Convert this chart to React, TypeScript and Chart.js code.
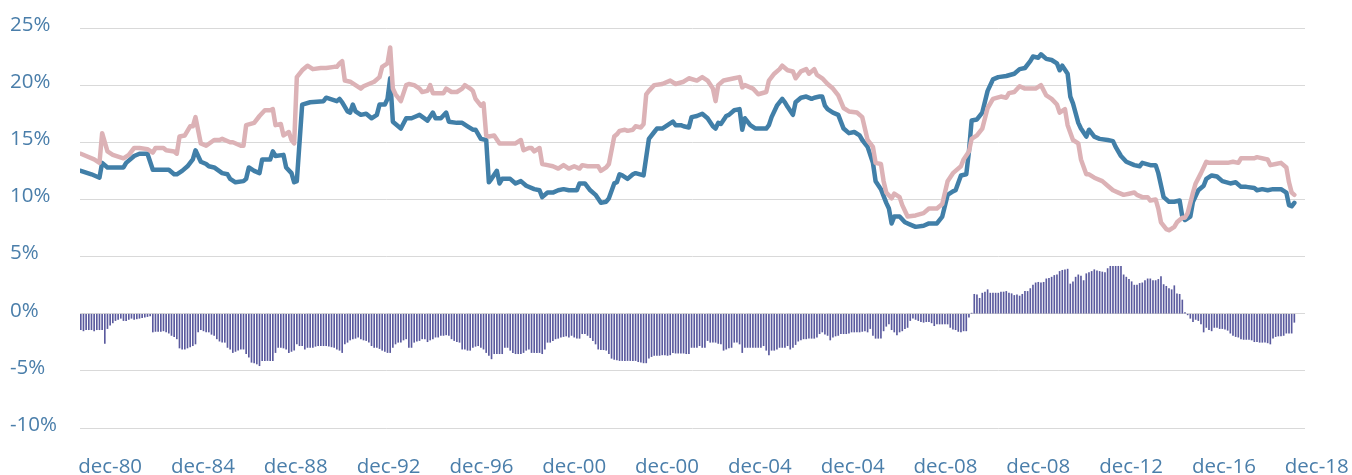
import React, { useEffect, useRef } from "react";
import { Chart, registerables } from "chart.js";

Chart.register(...registerables);

// x positions (month index) of the axis labels and their texts
const tickMonths = [11, 45.8, 80.6, 115.4, 150.2, 185, 219.8, 254.6, 289.4, 324.2, 359, 393.8, 428.6, 463.4];
const tickLabels = ["dec-80", "dec-84", "dec-88", "dec-92", "dec-96", "dec-00", "dec-00", "dec-04", "dec-04", "dec-08", "dec-08", "dec-12", "dec-16", "dec-18"];

const yTicks = [-10, -5, 0, 5, 10, 15, 20, 25];

// blue line: [month index, value %]
const blueSeries: [number, number][] = [
  [0,12.5],[4,12.2],[7,11.9],[8,13.2],[10,12.8],[16,12.8],[17,13.2],[20,13.8],[22,14.0],[25,14.0],[27,12.6],[33,12.6],[35,12.2],[36,12.2],[38,12.5],[40,12.9],[42,13.5],[43,14.3],[45,13.3],[47,13.1],[48,12.9],[50,12.8],[53,12.3],[55,12.2],[56,11.8],[58,11.5],[61,11.6],[62,11.8],[63,12.8],[65,12.5],[67,12.3],[68,13.5],[71,13.5],[72,14.2],[73,13.8],[76,13.9],[77,12.8],[79,12.3],[80,11.5],[81,11.6],[83,18.3],[86,18.5],[91,18.6],[92,18.9],[96,18.6],[97,18.8],[98,18.5],[100,17.7],[101,17.6],[102,18.3],[103,17.7],[105,17.4],[107,17.5],[109,17.1],[111,17.4],[112,18.3],[114,18.3],[115,18.8],[116,20.6],[117,16.8],[118,16.6],[120,16.2],[122,17.1],[124,17.1],[126,17.3],[127,17.4],[130,16.9],[132,17.6],[133,17.1],[135,17.1],[137,17.6],[138,16.8],[141,16.7],[143,16.7],[145,16.4],[147,16.1],[148,16.1],[150,15.3],[152,15.2],[153,11.5],[154,11.8],[156,12.5],[157,11.4],[158,11.8],[161,11.8],[163,11.4],[165,11.6],[167,11.2],[170,10.9],[172,10.8],[173,10.2],[175,10.6],[177,10.6],[179,10.8],[181,10.9],[183,10.8],[186,10.8],[187,11.4],[189,11.4],[191,10.8],[193,10.4],[195,9.7],[197,9.8],[198,10.1],[200,11.4],[201,11.5],[202,12.2],[203,12.1],[205,11.8],[207,12.2],[208,12.3],[211,12.1],[213,15.3],[215,15.9],[216,16.2],[218,16.2],[220,16.5],[222,16.8],[223,16.5],[225,16.5],[226,16.4],[228,16.3],[229,17.2],[231,17.3],[233,17.5],[235,17.1],[237,16.4],[238,16.2],[239,16.7],[240,16.6],[242,17.3],[243,17.4],[245,17.8],[247,17.9],[248,16.1],[249,17.1],[251,16.5],[253,16.2],[257,16.2],[258,16.5],[259,17.2],[261,18.2],[263,18.8],[264,18.5],[265,18.1],[267,17.4],[268,18.5],[270,18.9],[272,19.0],[274,18.8],[275,18.9],[277,19.0],[278,19.0],[279,18.2],[280,17.9],[282,17.6],[284,17.4],[286,16.2],[288,15.8],[290,15.9],[292,15.6],[293,15.2],[295,14.6],[297,13.2],[298,11.6],[300,10.9],[302,9.7],[303,9.2],[304,7.9],[305,8.5],[307,8.5],[309,8.0],[311,7.8],[313,7.6],[316,7.7],[318,7.9],[321,7.9],[323,8.5],[325,10.4],[327,10.7],[328,10.8],[330,12.1],[332,12.2],[333,14.2],[334,16.9],[336,17.0],[338,17.6],[340,19.5],[342,20.5],[344,20.7],[347,20.8],[350,21.0],[352,21.4],[354,21.5],[356,22.1],[357,22.5],[359,22.4],[360,22.7],[362,22.3],[364,22.2],[366,21.9],[367,21.3],[368,21.7],[370,21.0],[371,19.0],[372,18.4],[374,16.7],[375,16.2],[377,15.5],[378,16.1],[380,15.5],[382,15.3],[385,15.2],[387,15.1],[388,14.6],[390,13.8],[392,13.3],[395,13.0],[397,12.9],[398,13.2],[401,13.0],[403,13.0],[404,12.3],[406,10.2],[408,9.8],[410,9.8],[412,9.9],[413,8.5],[414,8.2],[416,8.5],[417,9.8],[419,10.8],[421,11.2],[422,11.8],[424,12.1],[426,12.0],[428,11.6],[431,11.4],[433,11.5],[435,11.1],[437,11.1],[440,11.0],[441,10.8],[443,10.9],[445,10.8],[447,10.9],[450,10.9],[452,10.6],[453,9.5],[454,9.4],[455,9.7]
];

// pink line: [month index, value %]
const pinkSeries: [number, number][] = [
  [0,14.0],[2,13.8],[5,13.5],[7,13.2],[8,15.8],[10,14.2],[12,13.9],[16,13.6],[18,13.9],[20,14.5],[22,14.5],[25,14.4],[27,14.1],[28,14.5],[31,14.5],[32,14.3],[35,14.2],[36,14.0],[37,15.5],[39,15.6],[41,16.4],[42,16.4],[43,17.2],[45,14.9],[47,14.7],[50,15.2],[52,15.2],[53,15.3],[56,15.0],[57,15.0],[60,14.7],[61,14.7],[62,16.5],[65,16.7],[67,17.3],[69,17.8],[71,17.8],[72,17.9],[73,16.5],[75,16.6],[76,15.6],[78,15.9],[79,15.2],[80,14.9],[81,20.7],[83,21.3],[85,21.7],[87,21.4],[90,21.5],[92,21.5],[95,21.6],[96,21.6],[97,21.9],[98,22.1],[99,20.4],[101,20.3],[103,20.0],[105,19.7],[106,19.9],[108,20.1],[110,20.3],[112,20.7],[113,21.6],[115,21.9],[116,23.3],[117,19.7],[118,19.2],[120,18.6],[122,20.0],[123,20.1],[125,20.0],[127,19.7],[128,19.4],[130,19.5],[131,20.0],[132,19.3],[136,19.3],[137,19.7],[139,19.4],[141,19.4],[143,19.7],[144,20.0],[146,19.7],[147,19.5],[148,18.8],[150,18.2],[151,18.4],[152,15.6],[153,15.5],[155,15.6],[157,14.9],[163,14.9],[165,15.2],[166,14.3],[168,14.5],[169,14.5],[170,14.2],[172,14.5],[173,13.1],[175,13.0],[177,12.9],[179,12.7],[181,13.0],[183,12.7],[185,12.9],[187,12.7],[188,13.0],[190,12.9],[194,12.9],[195,12.5],[197,12.8],[198,13.1],[200,15.5],[201,15.7],[202,16.0],[204,16.1],[205,16.0],[207,16.1],[208,16.4],[210,16.3],[211,16.6],[212,19.2],[213,19.5],[215,20.0],[218,20.1],[221,20.4],[223,20.1],[226,20.3],[228,20.6],[231,20.4],[233,20.7],[235,20.4],[237,19.7],[238,18.6],[239,20.0],[241,20.4],[245,20.6],[247,20.7],[248,19.8],[249,20.0],[252,19.7],[254,19.2],[257,19.4],[258,20.4],[260,21.0],[262,21.4],[263,21.7],[265,21.3],[267,21.2],[268,20.6],[270,21.2],[272,21.4],[273,21.0],[275,21.4],[276,20.9],[278,20.6],[280,20.1],[282,19.7],[284,19.1],[286,18.0],[288,17.7],[291,17.6],[293,17.2],[295,15.2],[297,14.6],[298,13.2],[300,13.1],[301,11.6],[302,10.6],[304,10.1],[305,10.5],[307,10.2],[308,9.5],[310,8.5],[313,8.6],[316,8.8],[318,9.2],[321,9.2],[323,9.6],[325,11.6],[327,12.3],[330,12.9],[331,13.5],[333,14.2],[334,15.3],[336,15.6],[338,16.2],[340,18.0],[342,18.8],[345,19.0],[347,18.9],[348,19.3],[350,19.4],[352,19.9],[354,19.7],[358,19.7],[360,20.0],[362,19.1],[364,18.8],[366,18.3],[367,17.6],[369,17.9],[370,16.5],[372,15.2],[374,14.9],[375,13.5],[377,12.2],[378,12.2],[380,11.9],[383,11.6],[385,11.2],[387,10.8],[389,10.6],[391,10.4],[393,10.5],[395,10.6],[396,10.4],[398,10.2],[400,10.2],[401,9.9],[403,10.0],[404,9.2],[405,8.0],[407,7.4],[408,7.3],[410,7.6],[411,8.0],[413,8.4],[414,8.4],[415,8.8],[417,10.6],[418,11.4],[420,12.3],[422,13.3],[423,13.2],[430,13.2],[432,13.3],[434,13.2],[435,13.6],[440,13.6],[441,13.7],[445,13.5],[446,13.0],[448,13.1],[450,13.2],[452,12.8],[453,11.5],[454,10.6],[455,10.4]
];

// monthly spread bars (%), month index 0..455
const spreadValues: number[] = [
  -1.4,-1.5,-1.4,-1.4,-1.4,-1.5,-1.4,-1.4,-1.4,-2.6,
  -1.3,-1.0,-0.8,-0.6,-0.5,-0.4,-0.6,-0.6,-0.5,-0.4,
  -0.5,-0.45,-0.4,-0.35,-0.3,-0.25,-0.2,-1.6,-1.55,-1.55,
  -1.55,-1.5,-1.6,-1.7,-1.9,-2.0,-2.2,-3.0,-3.1,-3.1,
  -3.0,-2.9,-2.8,-2.65,-1.6,-1.4,-1.5,-1.6,-1.6,-1.8,
  -1.9,-2.2,-2.4,-2.5,-2.5,-2.95,-3.1,-3.4,-3.3,-3.2,
  -3.1,-3.1,-3.5,-3.8,-4.25,-4.3,-4.4,-4.55,-4.1,-4.1,
  -4.1,-4.1,-4.1,-3.4,-2.95,-2.95,-3.0,-3.1,-3.4,-3.3,
  -3.2,-2.65,-2.8,-2.8,-3.1,-2.95,-2.95,-2.95,-2.85,-2.8,
  -2.8,-2.8,-2.8,-2.85,-2.9,-2.95,-3.1,-3.2,-3.4,-2.65,
  -2.5,-2.3,-2.2,-2.15,-2.05,-2.2,-2.3,-2.35,-2.5,-2.8,
  -2.95,-2.95,-3.05,-3.2,-3.3,-3.4,-3.4,-2.95,-2.65,-2.5,
  -2.5,-2.3,-2.2,-2.95,-2.95,-2.5,-2.4,-2.35,-2.2,-2.2,
  -2.45,-2.3,-2.2,-2.05,-2.05,-1.9,-1.9,-1.85,-1.9,-2.2,
  -2.35,-2.45,-2.5,-3.1,-3.1,-3.2,-3.2,-2.95,-2.85,-2.8,
  -2.95,-3.1,-3.4,-3.65,-3.95,-3.5,-3.5,-3.5,-3.5,-2.95,
  -2.95,-3.2,-3.4,-3.5,-3.5,-3.5,-3.4,-3.2,-3.1,-3.4,
  -3.4,-3.4,-3.4,-3.5,-3.1,-2.5,-2.5,-2.35,-2.2,-2.15,
  -2.05,-2.0,-1.95,-2.05,-1.9,-2.05,-2.15,-2.15,-1.75,-1.75,
  -1.9,-2.1,-2.35,-2.65,-3.1,-3.15,-3.15,-3.2,-3.5,-3.9,
  -4.0,-4.05,-4.1,-4.1,-4.1,-4.1,-4.1,-4.1,-4.1,-4.2,
  -4.25,-4.3,-4.3,-3.9,-3.75,-3.65,-3.65,-3.65,-3.6,-3.6,
  -3.65,-3.6,-3.4,-3.45,-3.45,-3.45,-3.45,-3.5,-3.5,-2.95,
  -2.95,-2.95,-2.8,-2.95,-2.95,-2.35,-2.5,-2.5,-2.5,-2.6,
  -2.65,-3.2,-3.1,-3.0,-2.95,-2.5,-2.5,-2.65,-3.4,-2.95,
  -2.95,-2.95,-2.95,-2.95,-2.95,-2.95,-2.8,-3.2,-3.6,-3.2,
  -3.2,-3.1,-2.95,-2.95,-2.95,-2.8,-3.1,-2.95,-2.7,-2.4,
  -2.3,-2.2,-2.2,-2.15,-2.15,-2.15,-2.05,-1.75,-1.6,-1.8,
  -1.9,-2.3,-2.05,-1.95,-1.9,-1.75,-1.75,-1.75,-1.7,-1.6,
  -1.6,-1.6,-1.6,-1.55,-1.5,-1.6,-1.3,-1.9,-2.15,-2.15,
  -2.15,-1.5,-1.1,-0.9,-1.4,-1.6,-1.85,-1.6,-1.5,-1.3,
  -1.2,-0.6,-0.4,-0.5,-0.6,-0.7,-0.75,-0.7,-0.7,-0.8,
  -1.05,-0.9,-0.9,-0.9,-0.9,-0.9,-1.2,-1.35,-1.4,-1.55,
  -1.6,-1.5,-1.5,-0.3,0.05,1.7,1.65,1.35,1.8,1.9,
  2.1,1.8,1.8,1.8,1.8,1.9,1.9,1.95,1.8,1.75,
  1.6,1.65,1.55,1.7,1.95,1.95,2.2,2.5,2.7,2.75,
  2.7,2.75,3.05,3.1,3.2,3.35,3.4,3.7,3.8,3.85,
  3.9,2.6,2.8,3.2,3.4,3.3,2.9,3.5,3.6,3.7,
  3.85,3.75,3.7,3.65,3.6,3.95,4.15,4.15,4.15,4.15,
  4.15,3.4,3.2,3.0,2.8,2.5,2.5,2.65,2.7,2.9,
  3.05,3.05,2.9,2.9,3.0,3.25,2.55,2.4,2.2,2.1,
  2.45,1.75,1.7,1.2,0.1,-0.1,-0.4,-0.7,-0.5,-0.6,
  -0.9,-1.6,-1.2,-1.4,-1.5,-1.2,-1.2,-1.3,-1.3,-1.35,
  -1.45,-1.7,-1.9,-2.0,-2.05,-2.2,-2.25,-2.25,-2.25,-2.3,
  -2.45,-2.45,-2.5,-2.5,-2.5,-2.55,-2.65,-2.15,-2.0,-1.95,
  -1.95,-1.9,-1.7,-1.7,-1.7,-0.75
];

const BLUE = "#417fa8";
const PINK = "#dcb2b6";
const BAR = "#5a5a9e";
const TEXT = "#4a7eaa";
const GRID = "#d9d9d9";

export default function App() {
  const canvasRef = useRef<HTMLCanvasElement | null>(null);

  useEffect(() => {
    const canvas = canvasRef.current;
    if (!canvas) return;
    const font = { family: "'Open Sans', sans-serif", size: 20.5 };
    const chart = new Chart(canvas, {
      type: "bar",
      data: {
        datasets: [
          {
            type: "line",
            label: "pink",
            data: pinkSeries.map(([x, y]) => ({ x, y })),
            borderColor: PINK,
            backgroundColor: PINK,
            borderWidth: 4.5,
            pointRadius: 0,
            tension: 0,
            borderJoinStyle: "round",
            borderCapStyle: "round",
            order: 0,
          } as any,
          {
            type: "line",
            label: "blue",
            data: blueSeries.map(([x, y]) => ({ x, y })),
            borderColor: BLUE,
            backgroundColor: BLUE,
            borderWidth: 4.5,
            pointRadius: 0,
            tension: 0,
            borderJoinStyle: "round",
            borderCapStyle: "round",
            order: 1,
          } as any,
          {
            type: "bar",
            label: "spread",
            data: spreadValues.map((y, x) => ({ x, y })),
            backgroundColor: BAR,
            barThickness: 1,
            order: 2,
          } as any,
        ],
      },
      options: {
        animation: false,
        responsive: false,
        layout: { padding: { left: 10, right: 47, top: 28, bottom: 0 } },
        plugins: { legend: { display: false }, tooltip: { enabled: false } },
        scales: {
          x: {
            type: "linear",
            offset: false,
            min: -0.3,
            max: 459,
            grid: { display: false, offset: false },
            border: { display: false },
            afterBuildTicks: (s: any) => {
              s.ticks = tickMonths.map((v) => ({ value: v }));
            },
            afterFit: (s: any) => {
              s.height = 47;
              s.paddingLeft = 0;
              s.paddingRight = 0;
            },
            ticks: {
              autoSkip: false,
              maxRotation: 0,
              minRotation: 0,
              padding: 19,
              color: TEXT,
              font,
              callback: (_v: any, i: number) => tickLabels[i],
            },
          },
          y: {
            min: -10,
            max: 25,
            afterBuildTicks: (s: any) => {
              s.ticks = yTicks.map((v) => ({ value: v }));
            },
            afterFit: (s: any) => {
              s.width = 70;
            },
            grid: { color: GRID, lineWidth: 1, drawTicks: false },
            border: { display: false },
            ticks: {
              crossAlign: "far",
              color: TEXT,
              font,
              labelOffset: -3,
              callback: (v: any) => `${v}%`,
            },
          },
        },
      } as any,
    });
    return () => chart.destroy();
  }, []);

  return (
    <div style={{ position: "fixed", left: 0, top: 0, width: 1352, height: 475, background: "#fff" }}>
      <canvas ref={canvasRef} width={1352} height={475} style={{ display: "block" }} />
    </div>
  );
}
